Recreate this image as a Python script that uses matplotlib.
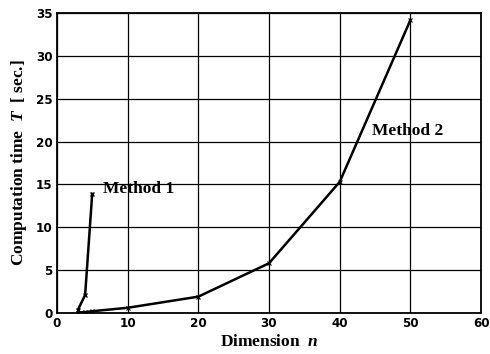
import matplotlib
matplotlib.use("Agg")
import matplotlib.pyplot as plt

# Computation time versus problem dimension for two methods
method1_n = [3, 4, 5]
method1_t = [0.4, 2.1, 13.9]

method2_n = [3, 4, 5, 10, 20, 30, 40, 50]
method2_t = [0.05, 0.1, 0.2, 0.6, 1.9, 5.8, 15.3, 34.2]

x_ticks = [0, 10, 20, 30, 40, 50, 60]
y_ticks = [0, 5, 10, 15, 20, 25, 30, 35]

plt.rcParams["mathtext.fontset"] = "custom"
plt.rcParams["mathtext.it"] = "Liberation Serif:italic:bold"
plt.rcParams["mathtext.rm"] = "Liberation Serif:bold"

fig = plt.figure(figsize=(4.9, 3.54), dpi=100)
ax = fig.add_axes([0.116, 0.116, 0.866, 0.847])

ax.plot(method1_n, method1_t, color="black", lw=1.8, marker="x", ms=3.5, mew=1.0)
ax.plot(method2_n, method2_t, color="black", lw=1.8, marker="x", ms=3, mew=0.8)

ax.set_xlim(0, 60)
ax.set_ylim(0, 35)
ax.set_xticks(x_ticks)
ax.set_yticks(y_ticks)
ax.grid(True, color="black", lw=0.9)
ax.tick_params(length=0, pad=3)
for lab in ax.get_xticklabels() + ax.get_yticklabels():
    lab.set_fontfamily("DejaVu Sans")
    lab.set_fontweight("bold")
    lab.set_fontsize(9.5)
    lab.set_fontstretch("condensed")
for s in ax.spines.values():
    s.set_linewidth(1.3)
    s.set_color("black")

serif = {"family": "Liberation Serif", "weight": "bold", "size": 12.5}
ax.set_xlabel("Dimension  $n$", fontdict=serif, labelpad=3)
ax.set_ylabel("Computation time  $T$  [ sec.]", fontdict=serif, labelpad=5)

ax.text(6.5, 14.5, "Method 1", fontdict=serif, va="center", ha="left")
ax.text(44.6, 21.2, "Method 2", fontdict=serif, va="center", ha="left")

fig.savefig("out.png", dpi=100)
